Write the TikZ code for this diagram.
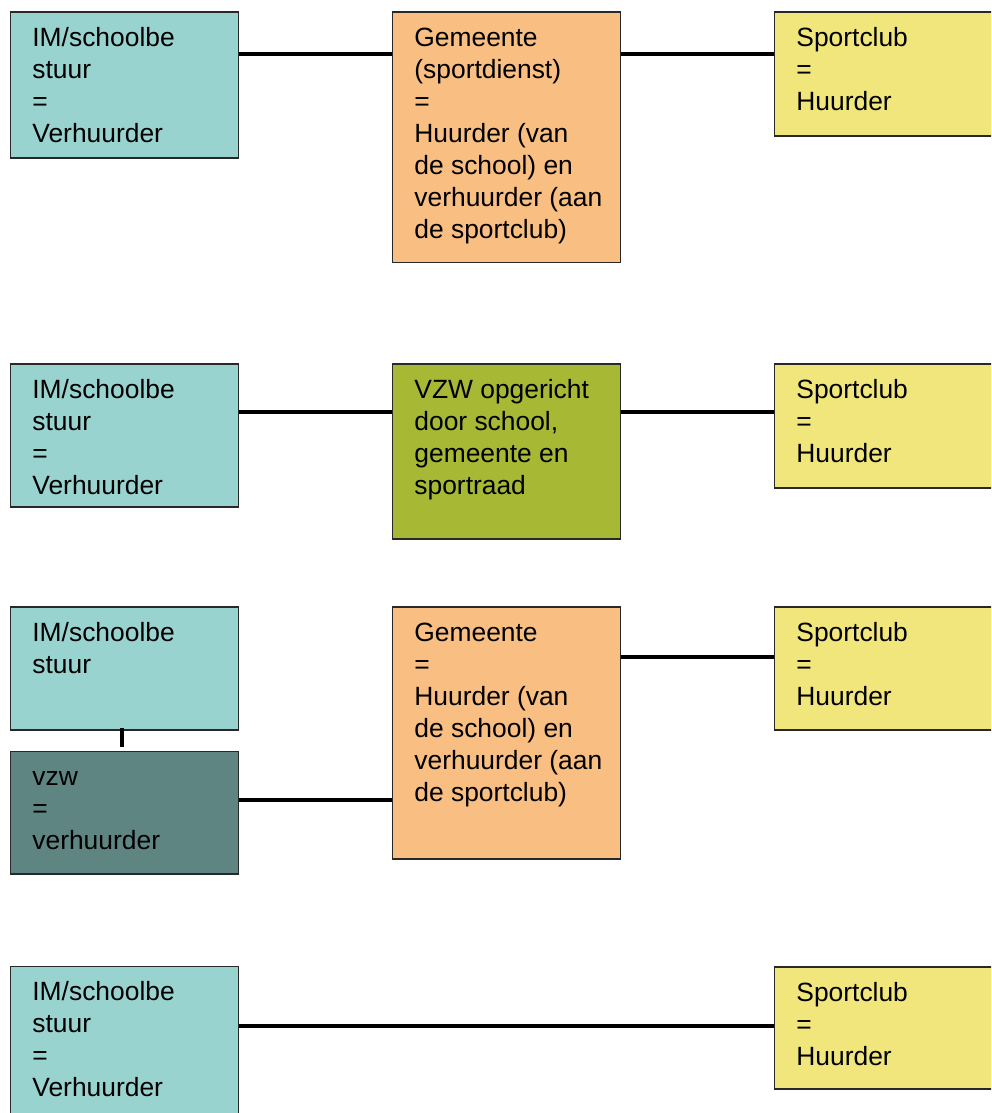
\documentclass[tikz,border=0pt]{standalone}
\usepackage{fontspec}
\setmainfont{Liberation Sans}
\definecolor{tealbox}{RGB}{153,211,208}
\definecolor{orangebox}{RGB}{248,190,130}
\definecolor{yellowbox}{RGB}{240,230,124}
\definecolor{olivebox}{RGB}{166,184,52}
\definecolor{darkteal}{RGB}{95,133,130}
\definecolor{bordergray}{RGB}{40,40,40}
\newcommand{\boxtext}[3]{\parbox[t][#2][t]{#1}{\raggedright\leftskip=22pt\parindent=0pt\rule{0pt}{34.5pt}#3}}
\tikzset{
  box/.style={draw=bordergray, line width=1.8pt, inner sep=0pt, anchor=north west,
              font=\fontsize{26.4}{32}\selectfont},
  link/.style={line width=4pt, black},
}
\begin{document}
\begin{tikzpicture}[x=1pt, y=-1pt]
\useasboundingbox (0,0) rectangle (991,1113);
\fill[white] (0,0) rectangle (991,1113);
\clip (0,0) rectangle (991,1113);
% row 1
\node[box, fill=tealbox] (l1) at (9.5,11.5) {\boxtext{228pt}{145.5pt}{IM/schoolbe\\stuur\\=\\Verhuurder}};
\node[box, fill=orangebox] (m1) at (391.5,11.5) {\boxtext{228pt}{250pt}{Gemeente\\(sportdienst)\\=\\Huurder (van\\de school) en\\verhuurder (aan\\de sportclub)}};
\node[box, fill=yellowbox] (r1) at (773.5,11.5) {\boxtext{228pt}{123.5pt}{Sportclub\\=\\Huurder}};
\coordinate (y1) at (0,54);
\draw[link] (l1.east |- y1) -- (m1.west |- y1);
\draw[link] (m1.east |- y1) -- (r1.west |- y1);
% row 2
\node[box, fill=tealbox] (l2) at (9.5,363) {\boxtext{228pt}{143pt}{IM/schoolbe\\stuur\\=\\Verhuurder}};
\node[box, fill=olivebox] (m2) at (391.5,363) {\boxtext{228pt}{175pt}{VZW opgericht\\door school,\\gemeente en\\sportraad}};
\node[box, fill=yellowbox] (r2) at (773.5,363) {\boxtext{228pt}{124pt}{Sportclub\\=\\Huurder}};
\coordinate (y2) at (0,411.5);
\draw[link] (l2.east |- y2) -- (m2.west |- y2);
\draw[link] (m2.east |- y2) -- (r2.west |- y2);
% row 3
\node[box, fill=tealbox] (l3) at (9.5,606) {\boxtext{228pt}{123pt}{IM/schoolbe\\stuur}};
\node[box, fill=darkteal] (v3) at (9.5,750.5) {\boxtext{228pt}{122.5pt}{vzw\\=\\verhuurder}};
\node[box, fill=orangebox] (m3) at (391.5,606) {\boxtext{228pt}{252pt}{Gemeente\\=\\Huurder (van\\de school) en\\verhuurder (aan\\de sportclub)}};
\node[box, fill=yellowbox] (r3) at (773.5,606) {\boxtext{228pt}{123pt}{Sportclub\\=\\Huurder}};
\coordinate (y3a) at (0,657);
\coordinate (y3b) at (0,800);
\coordinate (x3) at (122,0);
\draw[link] (m3.east |- y3a) -- (r3.west |- y3a);
\draw[link] (v3.east |- y3b) -- (m3.west |- y3b);
\draw[link, shorten <=-3pt, shorten >=4pt] (x3 |- l3.south) -- (x3 |- v3.north);
% row 4
\node[box, fill=tealbox] (l4) at (9.5,965.5) {\boxtext{228pt}{160pt}{IM/schoolbe\\stuur\\=\\Verhuurder}};
\node[box, fill=yellowbox] (r4) at (773.5,966) {\boxtext{228pt}{122pt}{Sportclub\\=\\Huurder}};
\coordinate (y4) at (0,1026);
\draw[link] (l4.east |- y4) -- (r4.west |- y4);
\end{tikzpicture}
\end{document}
